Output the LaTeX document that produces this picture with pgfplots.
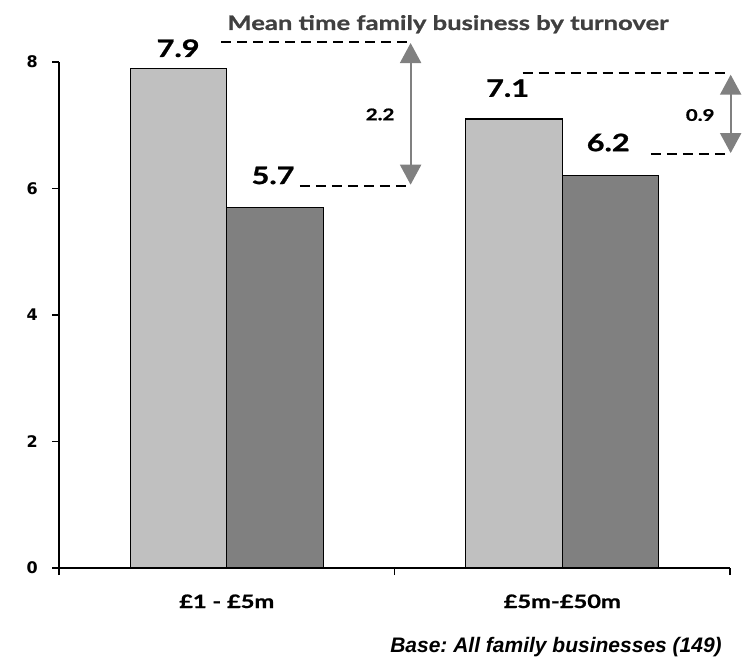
\documentclass[border=0pt]{standalone}
\usepackage{fontspec}
\setmainfont{Lato}
\newfontfamily\gill[FakeStretch=1.28, FakeBold=1]{Lato}
\newfontfamily\dejavu{DejaVu Sans}
\newfontfamily\arial{Liberation Sans}
\usepackage{pgfplots}
\pgfplotsset{compat=1.18}
\usetikzlibrary{arrows.meta}
\definecolor{lightbar}{RGB}{192,192,192}
\definecolor{darkbar}{RGB}{128,128,128}
\definecolor{titlegray}{RGB}{64,64,64}
\definecolor{arrowgray}{RGB}{128,128,128}
\frenchspacing
\begin{document}
\begin{tikzpicture}
\path[use as bounding box] (-59pt,-88pt) rectangle (687pt,568pt);
\begin{axis}[
  at={(0pt,0pt)}, anchor=south west,
  scale only axis, width=671pt, height=506pt,
  xmin=-0.5, xmax=1.5, ymin=0, ymax=8,
  clip=false,
  axis lines*=left,
  axis line style={line width=1.6pt, black},
  ytick={0,2,4,6,8},
  minor ytick={0,2,4,6,8},
  xtick={0,1},
  xticklabels={£1 - £5m, £5m-£50m},
  minor xtick={-0.5,0.5,1.5},
  major tick length=0pt,
  minor tick length=7pt,
  tick align=outside,
  tick style={line width=1.5pt, black},
  /pgf/number format/assume math mode=true,
  yticklabel style={font=\dejavu\bfseries\fontsize{16}{16}\selectfont, anchor=east, inner sep=0pt, xshift=-21pt},
  xticklabel style={font=\gill\bfseries\fontsize{18.5}{18.5}\selectfont, anchor=base, inner sep=0pt, yshift=-40pt},
]
\addplot[ybar, bar width=0.2876, bar shift=-0.1438, fill=lightbar, draw=black, line width=1.2pt]
  coordinates {(0,7.9) (1,7.1)};
\addplot[ybar, bar width=0.2876, bar shift=0.1438, fill=darkbar, draw=black, line width=1.2pt]
  coordinates {(0,5.7) (1,6.2)};

% value labels
\node[anchor=base, font=\gill\bfseries\fontsize{24}{24}\selectfont] at (axis cs:-0.145,8.08) {7.9};
\node[anchor=base, font=\gill\bfseries\fontsize{24}{24}\selectfont] at (axis cs:0.138,6.07) {5.7};
\node[anchor=base, font=\gill\bfseries\fontsize{24}{24}\selectfont] at (axis cs:0.837,7.45) {7.1};
\node[anchor=base, font=\gill\bfseries\fontsize{24}{24}\selectfont] at (axis cs:1.137,6.59) {6.2};

% difference markers, group 1
\draw[black, line width=2pt, dash pattern=on 10pt off 6pt] (axis cs:-0.017,8.31) -- (axis cs:0.55,8.31);
\draw[black, line width=2pt, dash pattern=on 10pt off 6pt] (axis cs:0.218,6.04) -- (axis cs:0.55,6.04);
\draw[arrowgray, line width=2.2pt, {Triangle[width=21pt,length=20pt]}-{Triangle[width=21pt,length=20pt]}] (axis cs:0.548,8.30) -- (axis cs:0.548,6.06);
\node[anchor=base, font=\gill\bfseries\fontsize{16}{16}\selectfont] at (axis cs:0.457,7.08) {2.2};

% difference markers, group 2
\draw[black, line width=2pt, dash pattern=on 10pt off 6pt] (axis cs:0.882,7.82) -- (axis cs:1.496,7.82);
\draw[black, line width=2pt, dash pattern=on 10pt off 6pt] (axis cs:1.264,6.55) -- (axis cs:1.496,6.55);
\draw[arrowgray, line width=2.2pt, {Triangle[width=21pt,length=20pt]}-{Triangle[width=21pt,length=20pt]}] (axis cs:1.502,7.80) -- (axis cs:1.502,6.56);
\node[anchor=base, font=\gill\bfseries\fontsize{16}{16}\selectfont] at (axis cs:1.411,7.07) {0.9};

% base note
\node[anchor=base east, font=\arial\bfseries\itshape\fontsize{21}{21}\selectfont, inner sep=0pt] at (axis cs:1.476,0) [yshift=-84pt] {Base: All family businesses (149)};
\end{axis}
\node[anchor=base, font=\gill\bfseries\fontsize{20}{20}\selectfont, text=titlegray] at (389pt,538pt) {Mean time family business by turnover};
\end{tikzpicture}
\end{document}
